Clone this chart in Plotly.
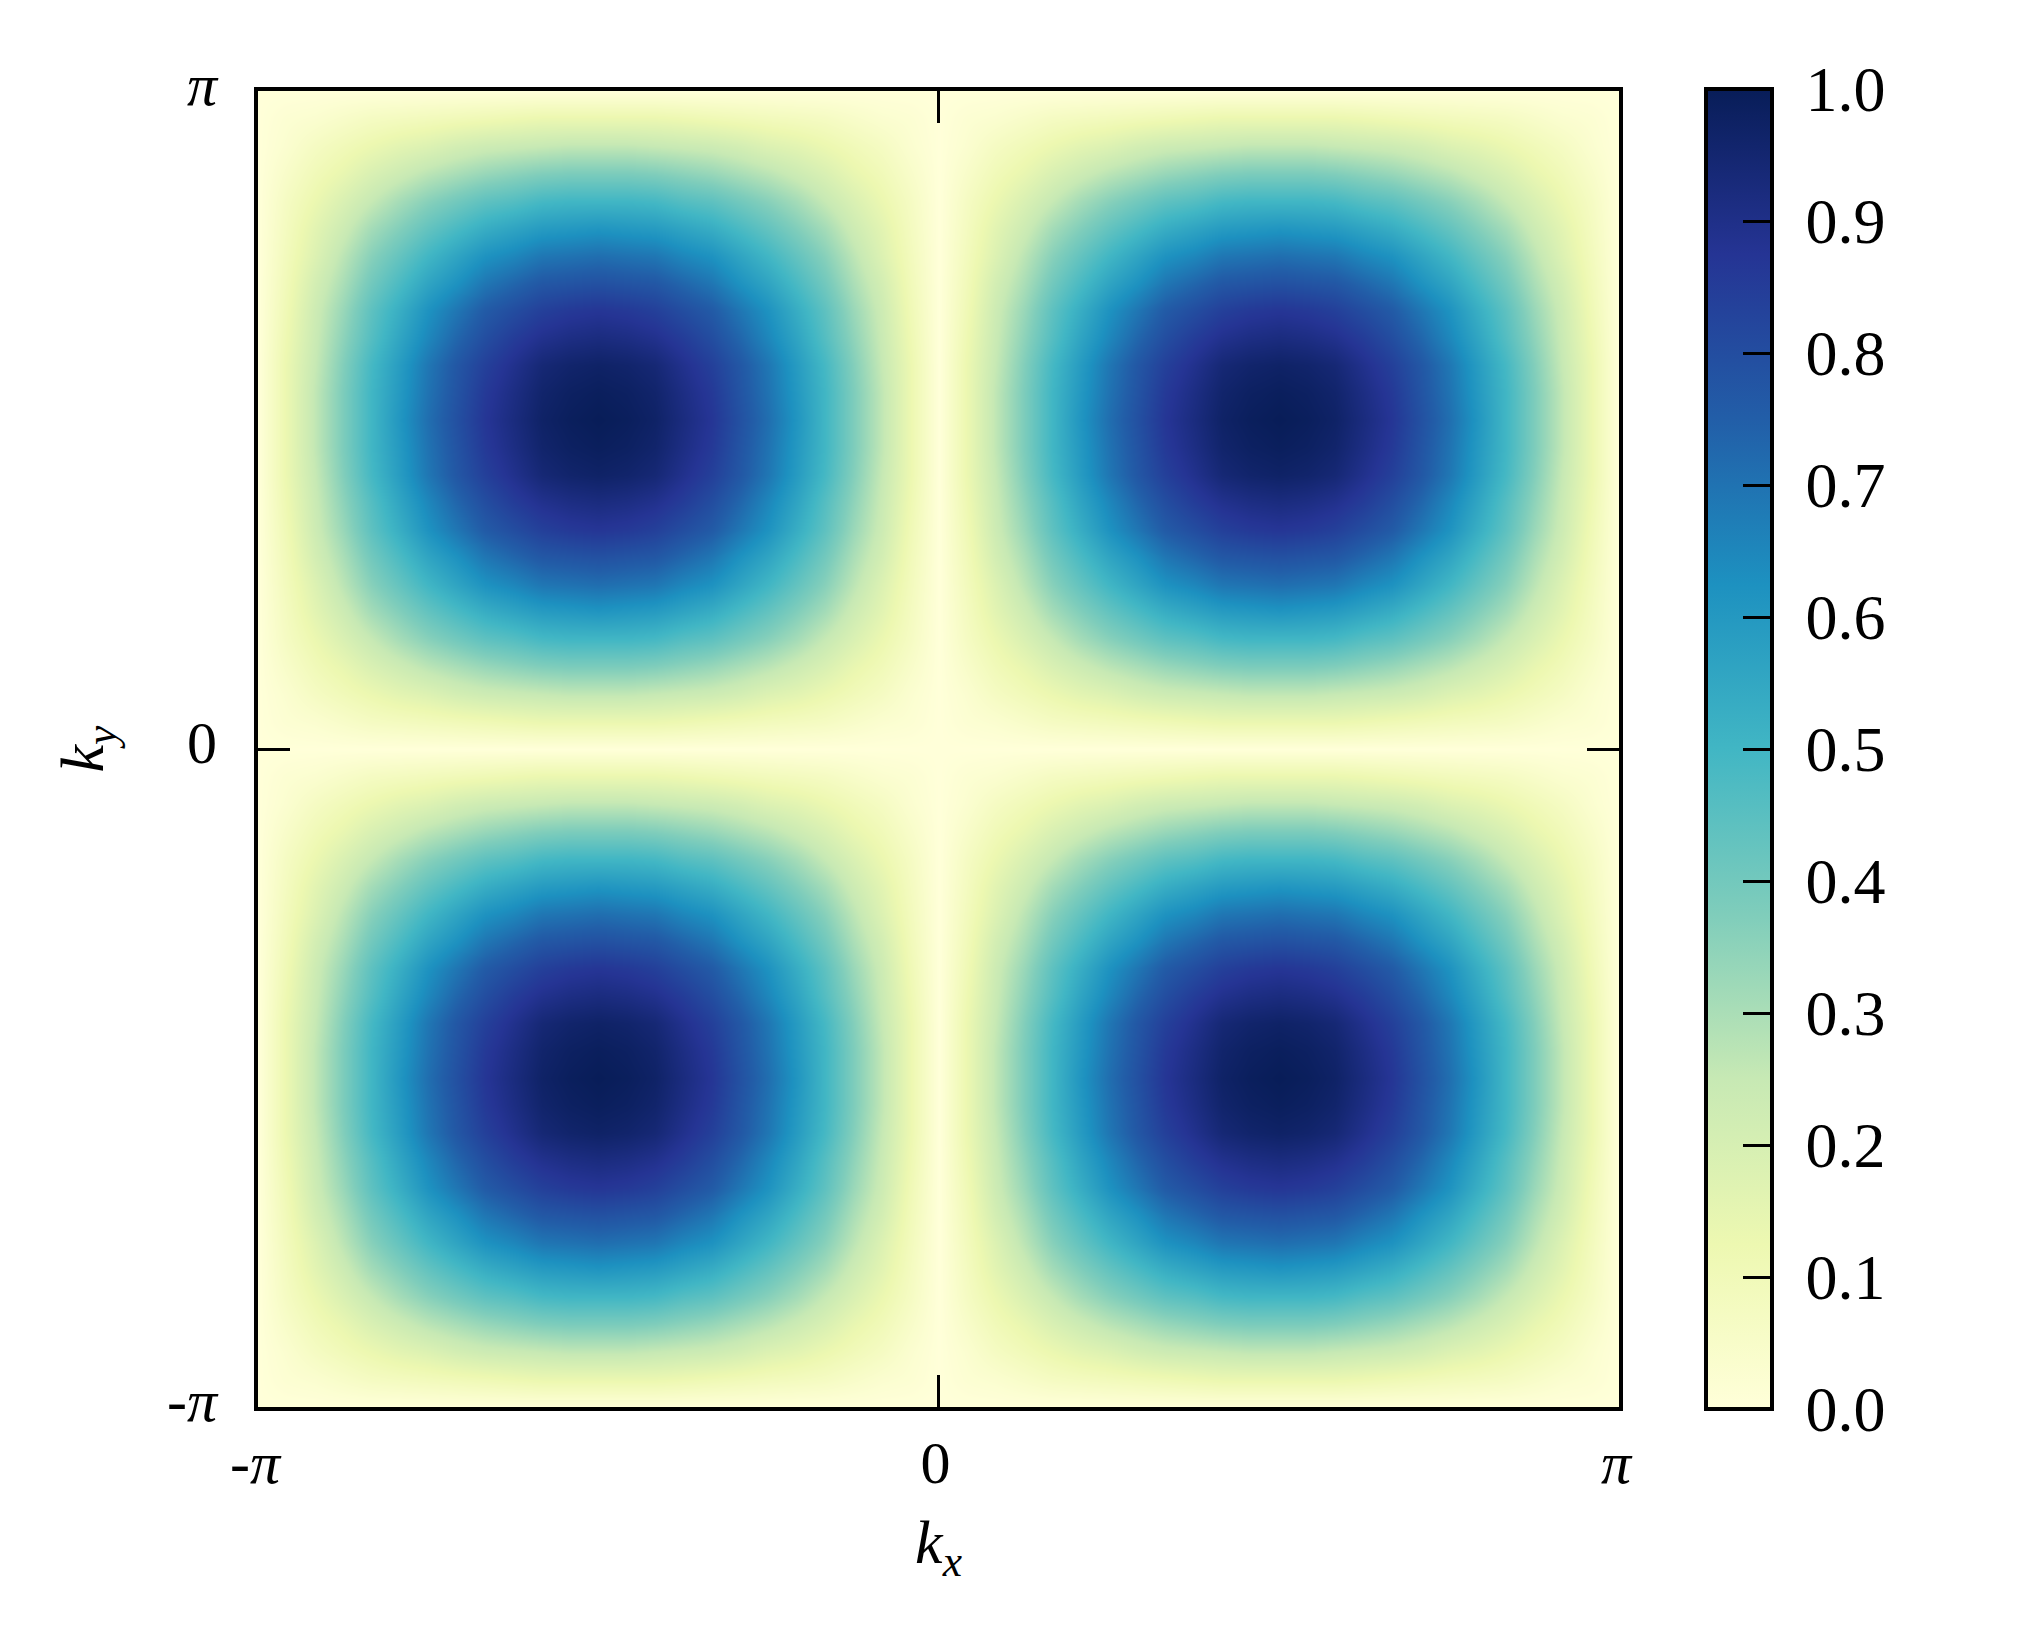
import numpy as np
import plotly.graph_objects as go

# Values for one quadrant (row/column run from the zero line to the peak).
quadrant_z = [
    [0, 0,   0,   0,   0,   0,   0,   0,   0,   0,   0,   0,   0],
    [0, .02, .03, .05, .07, .08, .09, .10, .11, .12, .13, .13, .13],
    [0, .03, .07, .10, .13, .16, .18, .21, .23, .24, .25, .26, .26],
    [0, .05, .10, .14, .19, .23, .27, .30, .33, .35, .37, .38, .38],
    [0, .07, .13, .19, .25, .31, .36, .40, .44, .46, .49, .50, .50],
    [0, .08, .16, .23, .31, .37, .43, .48, .53, .56, .59, .60, .61],
    [0, .09, .18, .27, .36, .43, .50, .56, .62, .65, .69, .70, .71],
    [0, .10, .21, .30, .40, .48, .56, .62, .69, .73, .77, .78, .79],
    [0, .11, .23, .33, .44, .53, .62, .69, .76, .80, .84, .86, .87],
    [0, .12, .24, .35, .46, .56, .65, .73, .80, .85, .89, .91, .92],
    [0, .13, .25, .37, .49, .59, .69, .77, .84, .89, .94, .96, .97],
    [0, .13, .26, .38, .50, .60, .70, .78, .86, .91, .96, .98, .99],
    [0, .13, .26, .38, .50, .61, .71, .79, .87, .92, .97, .99, 1.0],
]
k_tick_values = [-np.pi, 0, np.pi]
k_tick_text = ["-<i>π</i>", "0", "<i>π</i>"]
colorbar_ticks = [0, .1, .2, .3, .4, .5, .6, .7, .8, .9, 1.0]
ylgnbu = ["#ffffd9", "#edf8b1", "#c7e9b4", "#7fcdbb", "#41b6c4",
          "#1d91c0", "#225ea8", "#253494", "#081d58"]

# One lobe spans a quarter of the plot; the picture repeats it in all four quadrants.
q = np.array(quadrant_z)
lobe = np.hstack([q, q[:, -2::-1]])
lobe = np.vstack([lobe, lobe[-2::-1]])
row = np.hstack([lobe[:, :-1], lobe])
full = np.vstack([row[:-1], row])
k = np.linspace(-np.pi, np.pi, full.shape[0])

FONT = "Liberation Serif"
L, R, T, B = 258, 1619, 91, 1407
W, H = 2025, 1650
FS = 60

fig = go.Figure(go.Heatmap(
    x=k, y=k, z=full, zmin=0, zmax=1, zsmooth="best",
    colorscale=[[i / 8, c] for i, c in enumerate(ylgnbu)],
    colorbar=dict(
        thickness=66, thicknessmode="pixels",
        len=1320, lenmode="pixels",
        x=(1706 - L) / (R - L), xanchor="left", xpad=0,
        y=-2 / (B - T), yanchor="bottom", ypad=0,
        outlinewidth=4, outlinecolor="black",
        ticks="inside", ticklen=31, tickwidth=3, tickcolor="black",
        tickvals=colorbar_ticks,
        ticktext=["\u2009\u200a" + f"{v:.1f}" for v in colorbar_ticks],
        tickfont=dict(family=FONT, size=64, color="black"),
    ),
))
axis = dict(
    range=[-np.pi, np.pi], tickmode="array", tickvals=k_tick_values, ticktext=k_tick_text,
    ticks="inside", ticklen=32, tickwidth=3, tickcolor="black",
    showline=True, linewidth=4, linecolor="black", mirror="ticks",
    showgrid=False, zeroline=False,
    tickfont=dict(family=FONT, size=FS, color="black"), tickangle=0,
)
fig.update_xaxes(**axis, ticklabelshift=-3,
                 title=dict(text="<i>k</i><sub><i>x</i></sub>",
                            font=dict(family=FONT, size=62, color="black"), standoff=26))
fig.update_yaxes(**axis, ticklabelstandoff=25, ticklabelshift=-7,
                 title=dict(text="<i>k</i><sub><i>y</i></sub>",
                            font=dict(family=FONT, size=62, color="black"), standoff=44))
fig.update_layout(
    width=W, height=H, autosize=False,
    margin=dict(l=L, r=W - R, t=T, b=H - B, pad=0),
    paper_bgcolor="white", plot_bgcolor="white",
)
fig.write_html("out.html", config=dict(displayModeBar=False),
               post_script="document.body.style.margin='0';")
